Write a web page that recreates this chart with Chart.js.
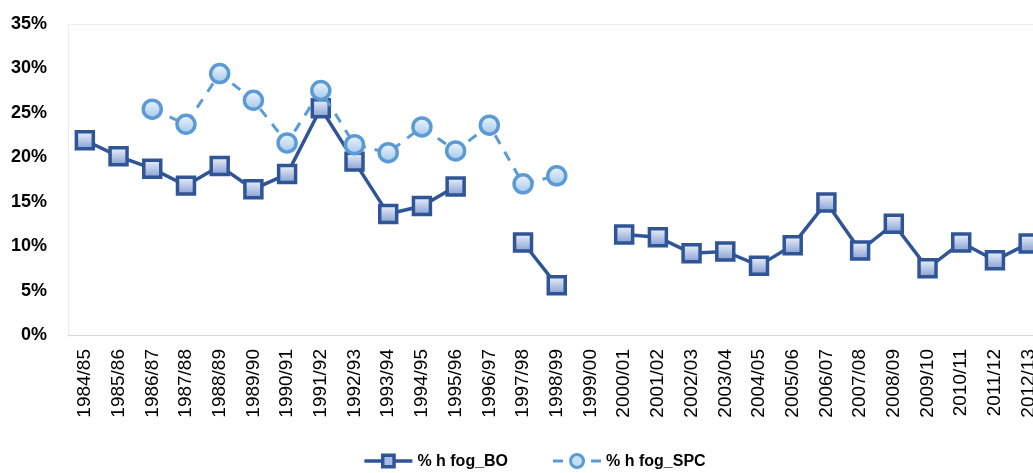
<!DOCTYPE html>
<html>
<head>
<meta charset="utf-8">
<title>% h fog</title>
<script src="https://cdn.jsdelivr.net/npm/chart.js@4.4.1/dist/chart.umd.min.js"></script>
<style>
  html, body { margin: 0; padding: 0; background: #fff; overflow: hidden; }
  #wrap { width: 1061px; height: 473px; }
</style>
</head>
<body>
<div id="wrap"><canvas id="fogChart" width="1061" height="473"></canvas></div>
<script>
const seasons = [
    '1984/85', '1985/86', '1986/87', '1987/88', '1988/89', '1989/90', '1990/91',
    '1991/92', '1992/93', '1993/94', '1994/95', '1995/96', '1996/97', '1997/98',
    '1998/99', '1999/00', '2000/01', '2001/02', '2002/03', '2003/04', '2004/05',
    '2005/06', '2006/07', '2007/08', '2008/09', '2009/10', '2010/11', '2011/12',
    '2012/13'
];

// share of fog hours, in percent (null = no record that season)
const fogBO = [
    21.9, 20.1, 18.7, 16.8, 19.0, 16.4, 18.1, 25.5, 19.5, 13.6, 14.5, 16.7, null, 10.4,
    5.6, null, 11.3, 11.0, 9.2, 9.4, 7.8, 10.1, 14.9, 9.5, 12.5, 7.5, 10.4, 8.4,
    10.3
];
const fogSPC = [
    null, null, 25.4, 23.7, 29.4, 26.4, 21.6, 27.5, 21.4, 20.5, 23.4, 20.7, 23.6, 17.0,
    17.9, null, null, null, null, null, null, null, null, null, null, null, null, null,
    null
];

const yMax = 35;
const yStep = 5;

// vertical gradient inside each marker, lighter on top
function markerFill(topColor, bottomColor) {
    return function (ctx) {
        const chart = ctx.chart;
        if (ctx.type !== 'data' || ctx.raw == null || !chart.chartArea) {
            return bottomColor;
        }
        const y = chart.scales.y.getPixelForValue(ctx.raw);
        const g = chart.ctx.createLinearGradient(0, y - 8, 0, y + 8);
        g.addColorStop(0, topColor);
        g.addColorStop(1, bottomColor);
        return g;
    };
}

// faint frame round the plot area
const plotFrame = {
    id: 'plotFrame',
    beforeDraw(chart) {
        const { ctx, chartArea: a } = chart;
        ctx.save();
        ctx.strokeStyle = '#ECECEC';
        ctx.lineWidth = 1;
        ctx.strokeRect(Math.round(a.left) + 0.5, Math.round(a.top) + 0.5, a.width, a.height);
        ctx.restore();
    }
};

// legend with line + marker symbols, centred under the plot
const fogLegend = {
    id: 'fogLegend',
    afterDraw(chart) {
        const c = chart.ctx;
        const sets = chart.data.datasets;
        const y = 461;
        const symW = 48, textGap = 5, itemGap = 45;
        c.save();
        c.font = 'bold 16px "Liberation Sans", Arial, sans-serif';
        c.textBaseline = 'middle';
        const widths = sets.map(d => c.measureText(d.label).width);
        let total = itemGap * (sets.length - 1);
        widths.forEach(w => { total += symW + textGap + w; });
        let x = 535 - total / 2;
        sets.forEach((d, i) => {
            c.strokeStyle = d.borderColor;
            c.lineWidth = d.borderWidth;
            c.setLineDash(d.borderDash || []);
            c.beginPath();
            c.moveTo(x, y);
            c.lineTo(x + symW, y);
            c.stroke();
            c.setLineDash([]);
            c.fillStyle = d.legendFill;
            c.strokeStyle = d.pointBorderColor;
            Chart.helpers.drawPoint(c, {
                pointStyle: d.pointStyle,
                radius: d.pointStyle === 'rect' ? 8 : 6.5,
                rotation: 0,
                borderWidth: 3
            }, x + symW / 2, y);
            x += symW + textGap;
            c.fillStyle = '#000';
            c.fillText(d.label, x, y + 1);
            x += widths[i] + itemGap;
        });
        c.restore();
    }
};

const ctxFog = document.getElementById('fogChart');
const fogChart = new Chart(ctxFog, {
    type: 'line',
    data: {
        labels: seasons,
        datasets: [{
            label: '% h fog_BO',
            data: fogBO,
            order: 1,
            borderColor: '#2F5597',
            borderWidth: 3.5,
            tension: 0,
            spanGaps: false,
            pointStyle: 'rect',
            pointRadius: 12,
            pointBorderWidth: 3.5,
            pointBorderColor: '#2F5597',
            pointBackgroundColor: markerFill('#E8EDF8', '#8AA3D5'),
            legendFill: '#A9BCE3'
        }, {
            label: '% h fog_SPC',
            data: fogSPC,
            order: 0,
            borderColor: '#5B9BD5',
            borderWidth: 3,
            borderDash: [10, 9],
            tension: 0,
            spanGaps: false,
            pointStyle: 'circle',
            pointRadius: 9,
            pointBorderWidth: 3.5,
            pointBorderColor: '#5B9BD5',
            pointBackgroundColor: markerFill('#E9F2FB', '#A9CCEC'),
            legendFill: '#C6DDF2'
        }]
    },
    options: {
        responsive: false,
        animation: false,
        events: [],
        layout: {
            padding: { top: 5, right: 0, bottom: 38, left: 0 }
        },
        plugins: {
            legend: { display: false },
            tooltip: { enabled: false }
        },
        scales: {
            x: {
                offset: true,
                grid: { display: false },
                border: { color: '#D9D9D9', width: 1 },
                ticks: {
                    autoSkip: false,
                    minRotation: 90,
                    maxRotation: 90,
                    padding: 6,
                    color: '#000',
                    font: { family: '"Liberation Sans", Arial, sans-serif', size: 19 }
                },
                afterFit: function (scale) {
                    scale.height = 100;
                }
            },
            y: {
                min: 0,
                max: yMax,
                grid: { display: false },
                border: { display: false },
                ticks: {
                    stepSize: yStep,
                    padding: 13,
                    color: '#000',
                    font: { family: '"Liberation Sans", Arial, sans-serif', size: 18, weight: 'bold' },
                    callback: v => v + '%'
                },
                afterFit: function (scale) {
                    scale.width = 68;
                }
            }
        }
    },
    plugins: [plotFrame, fogLegend]
});
</script>
</body>
</html>
